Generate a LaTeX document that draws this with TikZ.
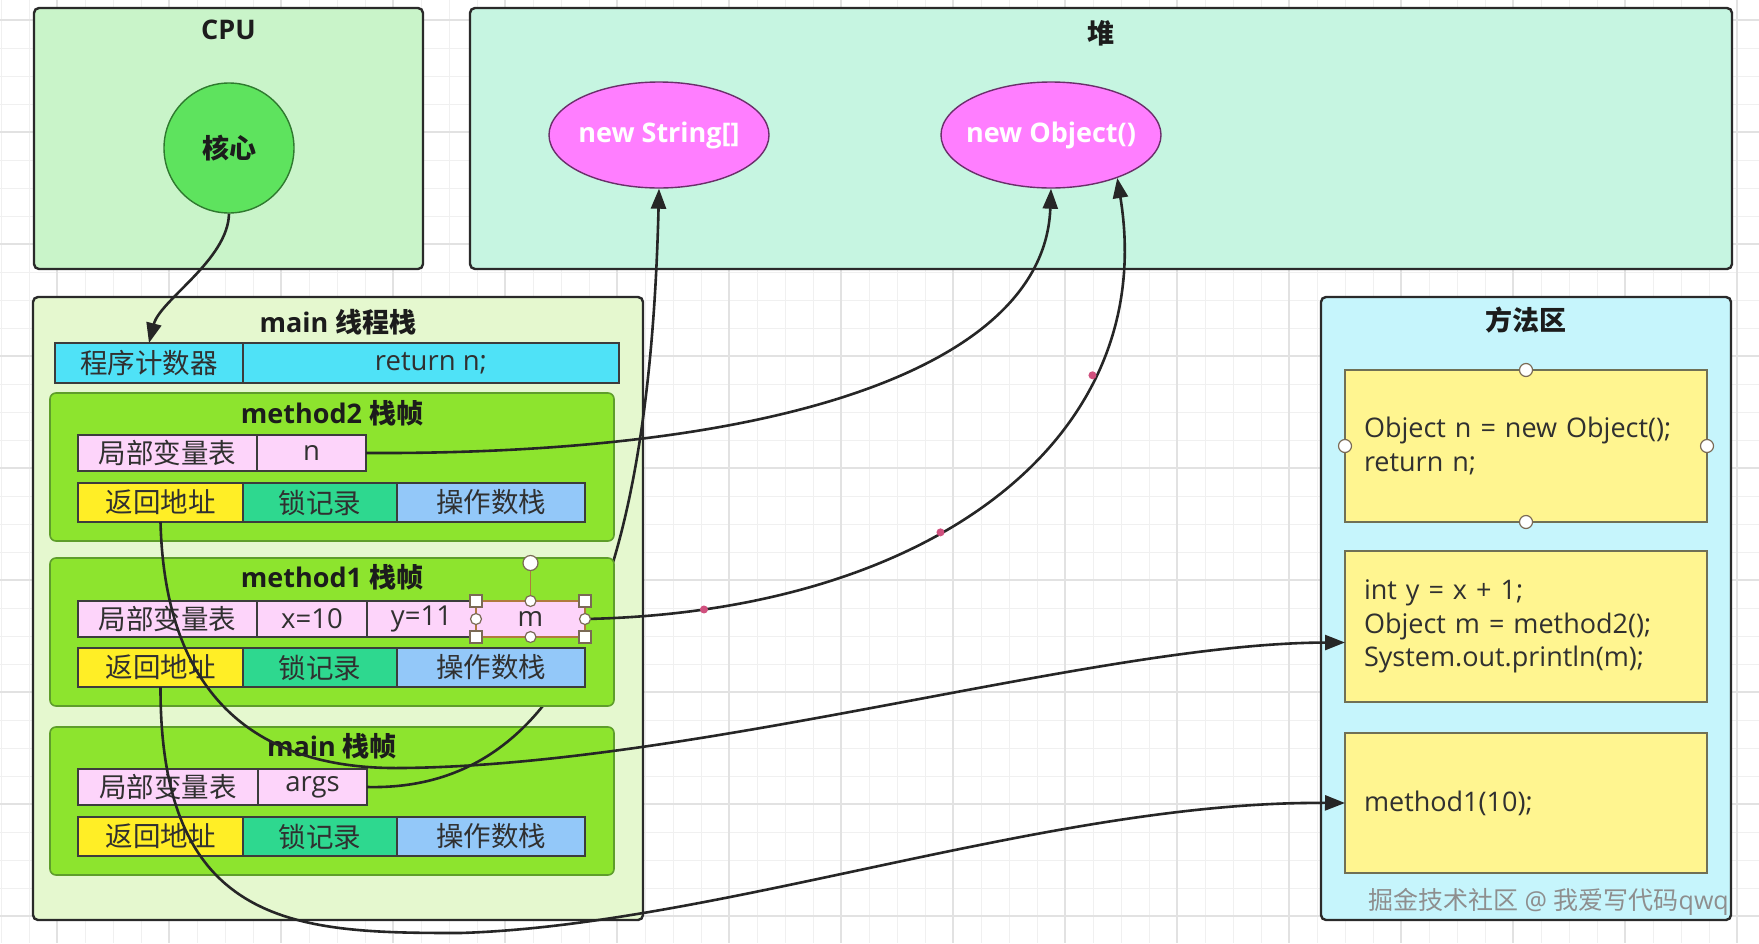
\documentclass[tikz,border=0pt]{standalone}
\usepackage{fontspec}
\setmainfont{Open Sans}
\newfontfamily\cjk{Noto Sans CJK SC}
\usetikzlibrary{positioning,shapes.geometric,arrows.meta}

\definecolor{gridMinor}{HTML}{F0F0F0}
\definecolor{gridMajor}{HTML}{E2E2E2}
\definecolor{lineC}{HTML}{2A2A2A}
\definecolor{headC}{HTML}{1C1C1C}
\definecolor{textC}{HTML}{303030}
\definecolor{edgeC}{HTML}{262626}
\definecolor{cpuC}{HTML}{C9F4C9}
\definecolor{heapC}{HTML}{C6F5E1}
\definecolor{stackC}{HTML}{E5F8CF}
\definecolor{methC}{HTML}{C6F5FC}
\definecolor{frameC}{HTML}{8DE42E}
\definecolor{frameL}{HTML}{5E9E2A}
\definecolor{cellL}{HTML}{3C3C3C}
\definecolor{pcC}{HTML}{4FE2F7}
\definecolor{localC}{HTML}{FDD4FA}
\definecolor{retC}{HTML}{FFEE26}
\definecolor{lockC}{HTML}{2ED88F}
\definecolor{opC}{HTML}{93C8F9}
\definecolor{codeC}{HTML}{FFF590}
\definecolor{codeL}{HTML}{707055}
\definecolor{coreC}{HTML}{5EE35E}
\definecolor{coreL}{HTML}{2F7A2F}
\definecolor{objC}{HTML}{FF7EFF}
\definecolor{objL}{HTML}{6A2F6A}
\definecolor{selC}{HTML}{B07A3E}
\definecolor{handleL}{HTML}{7A6A55}
\definecolor{wayC}{HTML}{D0507E}
\definecolor{markC}{HTML}{8E8E8E}

\newcommand\cellfont{\fontsize{27.5}{32}\selectfont}
\newcommand\headfont{\fontsize{27}{32}\selectfont\bfseries}
\newcommand\codefont{\fontsize{27}{33.5}\selectfont}

\tikzset{
  region/.style={draw=lineC, line width=2.4pt, rounded corners=5pt, anchor=north west, inner sep=0pt, outer sep=0pt},
  heading/.style={font=\headfont, text=headC, inner sep=0pt},
  stackframe/.style={draw=frameL, fill=frameC, line width=1.6pt, rounded corners=6pt, anchor=north west,
    minimum width=564pt, minimum height=148pt, inner sep=0pt, outer sep=0pt},
  cell/.style={draw=cellL, line width=1.4pt, minimum width=#1, inner sep=0pt, outer sep=0pt, font=\cellfont, text=textC},
  locvar/.style={cell=#1, fill=localC, minimum height=36pt},
  retcell/.style={cell=#1, minimum height=39pt},
  codebox/.style={draw=codeL, fill=codeC, line width=1.5pt, anchor=north west, minimum height=#1,
    text width=324pt, inner xsep=19pt, inner ysep=0pt, outer sep=0pt, align=left, font=\codefont, text=textC},
  heapobj/.style={ellipse, draw=objL, fill=objC, line width=1.4pt, minimum width=220pt, minimum height=106pt,
    inner xsep=-14pt, inner ysep=0pt, font=\headfont, text=white},
  ref/.style={draw=edgeC, line width=2.6pt, -{Triangle[length=20pt,width=15pt]}},
  hdot/.style={circle, draw=handleL, fill=white, line width=1.2pt, minimum size=11pt, inner sep=0pt},
  hsquare/.style={rectangle, draw=handleL, fill=white, line width=1.2pt, minimum size=12pt, inner sep=0pt},
  waypt/.style={circle, fill=wayC, minimum size=8pt, inner sep=0pt}
}

\begin{document}
\begin{tikzpicture}[x=1pt,y=-1pt]
\useasboundingbox (0,0) rectangle (1759,943);
\fill[white] (0,0) rectangle (1759,943);
% background grid
\foreach \gx in {1,29,...,1759} \draw[gridMinor, line width=1pt] (\gx,0) -- (\gx,943);
\foreach \gy in {-8,20,...,943} \draw[gridMinor, line width=1pt] (0,\gy) -- (1759,\gy);
\foreach \gx in {57,169,...,1759} \draw[gridMajor, line width=1.3pt] (\gx,0) -- (\gx,943);
\foreach \gy in {20,132,...,943} \draw[gridMajor, line width=1.3pt] (0,\gy) -- (1759,\gy);

% regions
\node[region, fill=cpuC, minimum width=389pt, minimum height=261pt] (cpu) at (34,8) {};
\node[heading] (cputitle) at ([yshift=-22pt]cpu.north) {CPU};
\node[region, fill=heapC, minimum width=1262pt, minimum height=261pt] (heap) at (470,8) {};
\node[heading] (heaptitle) at ([yshift=-25pt]heap.north) {\cjk 堆};
\node[region, fill=stackC, minimum width=610pt, minimum height=623pt] (stack) at (33,297) {};
\node[heading] (stacktitle) at ([yshift=-25pt]stack.north) {main {\cjk 线程栈}};
\node[region, fill=methC, minimum width=410pt, minimum height=623pt] (meth) at (1321,297) {};
\node[heading] (methtitle) at ([yshift=-23pt]meth.north) {\cjk 方法区};

\node[circle, draw=coreL, fill=coreC, line width=1.4pt, minimum size=130pt, inner sep=0pt, font=\headfont, text=headC] (core) at (229,148) {\cjk 核心};
\node[heapobj] (str) at (659,135) {new String[]};
\node[heapobj] (obj) at (1051,135) {new Object()};

% program counter
\node[cell=188pt, fill=pcC, minimum height=40pt, anchor=north west] (pc) at (55,343) {\cjk 程序计数器};
\node[cell=376pt, fill=pcC, minimum height=40pt, right=0pt of pc] (pcval) {return n;};

% main frame
\node[stackframe] (mn) at (50,727) {};
\node[heading] (mntitle) at ([yshift=-19pt]mn.north) {main {\cjk 栈帧}};
\node[locvar=180pt, below right=42pt and 28pt of mn.north west] (mn-loc) {\cjk 局部变量表};
\node[locvar=109pt, right=0pt of mn-loc] (args) {args};

% args -> new String[] runs under the method1 frame
\draw[ref] (args.east) .. controls (575,792) and (650,560) .. (str.south);

% method1 frame
\node[stackframe] (m1) at (50,558) {};
\node[heading] (m1title) at ([yshift=-19pt]m1.north) {method1 {\cjk 栈帧}};
\node[locvar=179pt, below right=43pt and 28pt of m1.north west] (m1-loc) {\cjk 局部变量表};
\node[locvar=110pt, right=0pt of m1-loc] (x) {x=10};
\node[locvar=109pt, right=0pt of x] (y) {y=11};
\node[locvar=109pt, right=0pt of y] (m) {m};

% method2 frame
\node[stackframe] (m2) at (50,393) {};
\node[heading] (m2title) at ([yshift=-20pt]m2.north) {method2 {\cjk 栈帧}};
\node[locvar=179pt, below right=42pt and 28pt of m2.north west] (m2-loc) {\cjk 局部变量表};
\node[locvar=109pt, right=0pt of m2-loc] (n) {n};

\foreach \f in {m2,m1,mn}{
  \node[retcell=165pt, fill=retC, below right=90pt and 28pt of \f.north west] (\f-ret) {\cjk 返回地址};
  \node[retcell=154pt, fill=lockC, right=0pt of \f-ret] (\f-lock) {\cjk 锁记录};
  \node[retcell=188pt, fill=opC, right=0pt of \f-lock] (\f-op) {\cjk 操作数栈};
}

% method area
\node[codebox=152pt] (codeM2) at (1345,370) {Object n = new Object();\\return n;};
\node[codebox=151pt] (codeM1) at (1345,551) {int y = x + 1;\\Object m = method2();\\System.out.println(m);};
\node[codebox=140pt] (codeMain) at (1345,733) {method1(10);};

% references
\draw[ref] (core.south) .. controls (228,260) and (160,300) .. (pc.north);
\draw[ref] (n.east) .. controls (800,455) and (1045,360) .. (obj.south);
\draw[ref] (m.east) .. controls (930,612) and (1160,440) .. (obj.-33)
  node[waypt, pos=.12] {} node[waypt, pos=.41] {} node[waypt, pos=.72] {};
\draw[ref] (m2-ret.south) .. controls (165,700) and (260,770) .. (402,768)
  .. controls (700,765) and (1100,643) .. ([yshift=-16pt]codeM1.west);
\draw[ref] (m1-ret.south) .. controls (160,930) and (300,933) .. (460,933)
  .. controls (720,925) and (1050,801) .. (codeMain.west);

% selection handles
\draw[selC, line width=1.5pt] (m.north west) rectangle (m.south east);
\coordinate (mrot) at ([yshift=38pt]m.north);
\draw[selC, line width=1.5pt] (m.north) -- (mrot);
\node[hdot, minimum size=15pt] at (mrot) {};
\foreach \a in {north west,north east,south west,south east} \node[hsquare] at (m.\a) {};
\foreach \a in {north,south,east,west} \node[hdot] at (m.\a) {};
\foreach \a in {north,south,east,west} \node[hdot, minimum size=13pt] at (codeM2.\a) {};

\node[anchor=west, inner sep=0pt, font=\fontsize{25}{29}\selectfont, text=markC] (mark) at (1368,902) {{\cjk 掘金技术社区} @ {\cjk 我爱写代码}qwq};
\end{tikzpicture}
\end{document}
